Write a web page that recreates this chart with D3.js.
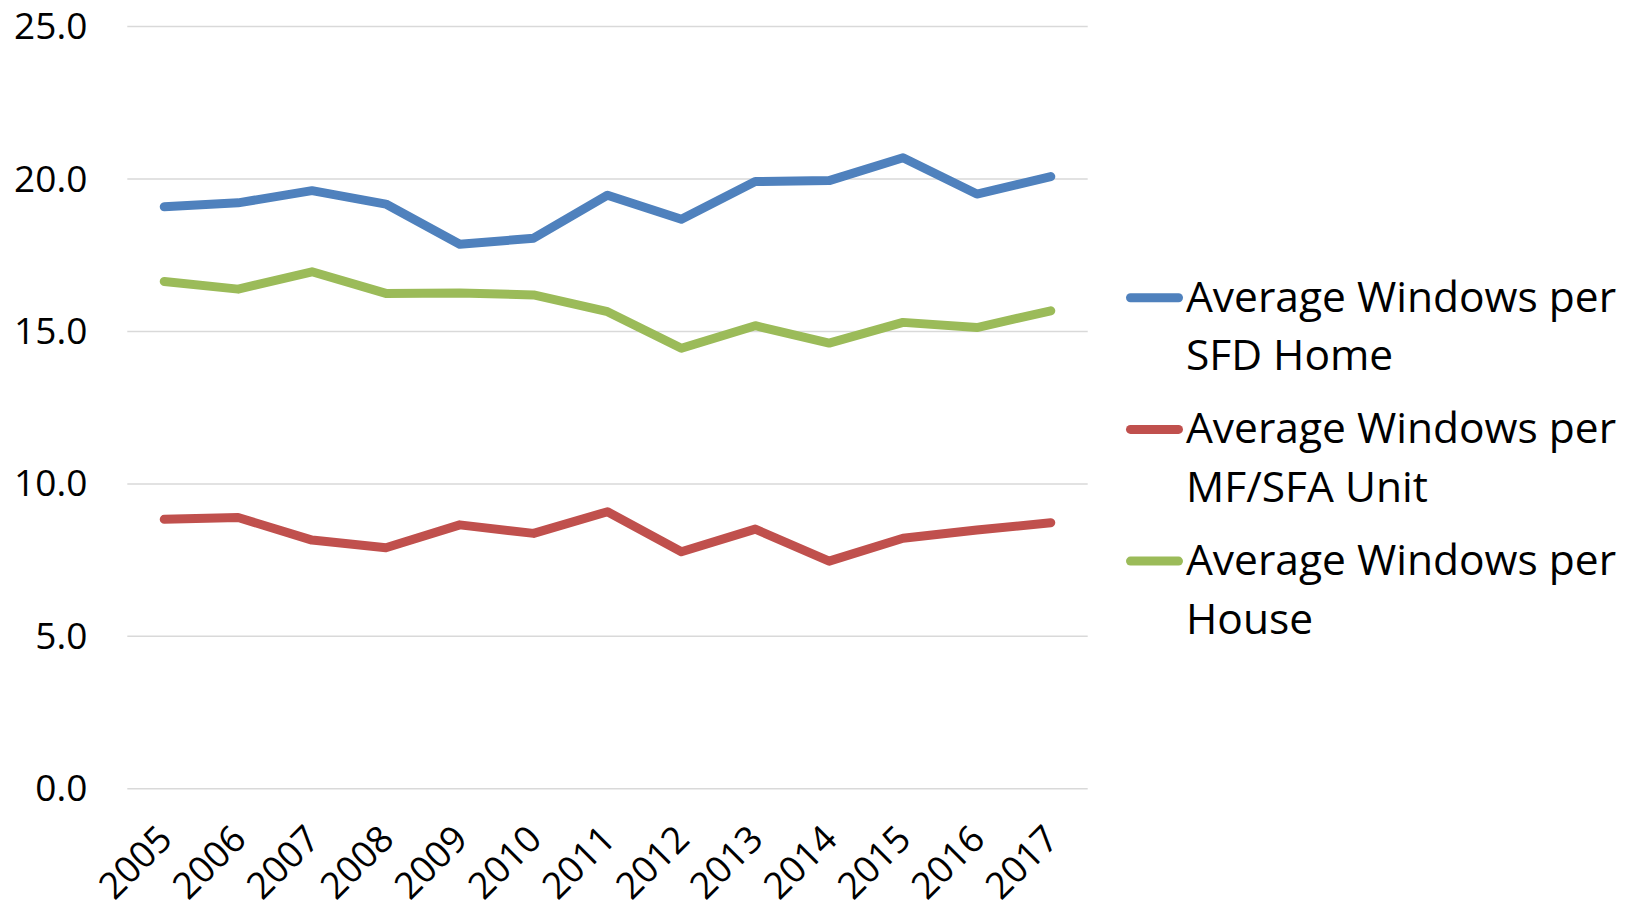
<!DOCTYPE html>
<html>
<head>
<meta charset="utf-8">
<script src="https://cdn.jsdelivr.net/npm/d3@7"></script>
<style>
  body { margin: 0; background: #fff; }
  text { font-family: "Open Sans", sans-serif; fill: #000; }
</style>
</head>
<body>
<div id="chart"></div>
<script>
"use strict";

const years = ["2005", "2006", "2007", "2008", "2009", "2010", "2011", "2012", "2013", "2014", "2015", "2016", "2017"];
const sfdHome = [19.07, 19.2, 19.6, 19.16, 17.84, 18.04, 19.45, 18.66, 19.9, 19.93, 20.68, 19.49, 20.06];
const mfSfaUnit = [8.82, 8.88, 8.14, 7.89, 8.64, 8.36, 9.07, 7.76, 8.5, 7.45, 8.2, 8.47, 8.71];
const house = [16.62, 16.37, 16.94, 16.23, 16.24, 16.18, 15.63, 14.43, 15.17, 14.6, 15.28, 15.11, 15.66];
const yTicks = [0, 5, 10, 15, 20, 25];
const seriesNames = [
  ["Average Windows per", "SFD Home"],
  ["Average Windows per", "MF/SFA Unit"],
  ["Average Windows per", "House"]
];
const colors = ["#4F81BD", "#C0504D", "#9BBB59"];

const width = 1630;
const height = 906;

const margin = {
  top: 26,
  left: 127.3,
  right: 1087.7,
  bottom: 788.3
};

const svg = d3.select("#chart")
  .append("svg")
  .attr("width", width)
  .attr("height", height);

const xScale = d3.scaleBand()
  .domain(years)
  .range([margin.left, margin.right]);

const yScale = d3.scaleLinear()
  .domain([0, 25])
  .range([margin.bottom, margin.top]);

// gridlines + y labels
const yAxis = d3.axisLeft(yScale)
  .tickValues(yTicks)
  .tickFormat(d3.format(".1f"))
  .tickSize(-(margin.right - margin.left))
  .tickPadding(40);

svg.append("g")
  .attr("class", "y-axis")
  .attr("transform", `translate(${margin.left},0)`)
  .call(yAxis)
  .call(g => g.select(".domain").remove())
  .call(g => g.selectAll(".tick line").attr("stroke", "#D9D9D9").attr("stroke-width", 1.5))
  .call(g => g.selectAll(".tick text")
    .style("font-size", "37px")
    .attr("dy", "0.34em")
    .attr("fill", "#000"));

// x labels, rotated
const xAxis = d3.axisBottom(xScale)
  .tickSize(0)
  .tickPadding(0);

svg.append("g")
  .attr("class", "x-axis")
  .attr("transform", `translate(0,${margin.bottom})`)
  .call(xAxis)
  .call(g => g.select(".domain").remove())
  .call(g => g.selectAll(".tick text")
    .style("font-size", "37px")
    .attr("fill", "#000")
    .attr("text-anchor", "end")
    .attr("dy", 0)
    .attr("y", 0)
    .attr("transform", "translate(10,53) rotate(-45)"));

const line = d3.line()
  .x((d, i) => xScale(years[i]) + xScale.bandwidth() / 2)
  .y(d => yScale(d));

const allSeries = [sfdHome, mfSfaUnit, house];

svg.selectAll(".series")
  .data(allSeries)
  .join("path")
  .attr("class", "series")
  .attr("d", d => line(d))
  .attr("fill", "none")
  .attr("stroke", (d, i) => colors[i])
  .attr("stroke-width", 9)
  .attr("stroke-linecap", "round")
  .attr("stroke-linejoin", "round");

// legend
const legend = svg.append("g")
  .attr("class", "legend")
  .attr("transform", "translate(1126,311.7)");

const item = legend.selectAll("g")
  .data(seriesNames)
  .join("g")
  .attr("transform", (d, i) => `translate(0,${i * 131.7})`);

item.append("line")
  .attr("x1", 4.5)
  .attr("x2", 52.5)
  .attr("y1", -14)
  .attr("y2", -14)
  .attr("stroke", (d, i) => colors[i])
  .attr("stroke-width", 9)
  .attr("stroke-linecap", "round");

item.append("text")
  .attr("x", 60)
  .style("font-size", "42.5px")
  .selectAll("tspan")
  .data(d => d)
  .join("tspan")
  .attr("x", 60)
  .attr("y", (d, i) => i * 58.5)
  .text(d => d);
</script>
</body>
</html>
